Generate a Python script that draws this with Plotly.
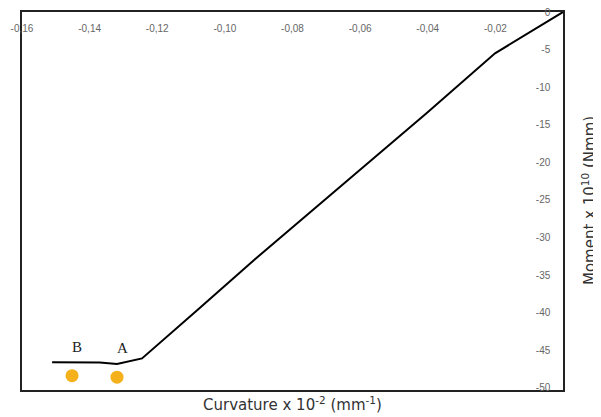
import plotly.graph_objects as go

# Curve data (curvature x 1e-2 mm^-1, moment x 1e10 Nmm)
curvature = [-0.1511, -0.1420, -0.1370, -0.1319, -0.1245, -0.1082, -0.0911, -0.0402, -0.0201, 0.0]
moment = [-46.6, -46.6, -46.65, -46.85, -46.1, -39.7, -32.9, -13.4, -5.5, 0.0]

# Orange points B and A
pt_labels = ["B", "A"]
pt_x = [-0.1452, -0.1319]
pt_y = [-48.4, -48.6]
lbl_y = [-44.6, -44.7]

x_ticks = [-0.16, -0.14, -0.12, -0.10, -0.08, -0.06, -0.04, -0.02]
x_ticktext = ["-0,16", "-0,14", "-0,12", "-0,10", "-0,08", "-0,06", "-0,04", "-0,02"]
y_ticks = [0, -5, -10, -15, -20, -25, -30, -35, -40, -45, -50]
y_ticktext = ["0", "-5", "-10", "-15", "-20", "-25", "-30", "-35", "-40", "-45", "-50"]

fig = go.Figure()
fig.add_trace(go.Scatter(x=curvature, y=moment, mode="lines",
                         line=dict(color="black", width=2), showlegend=False))
fig.add_trace(go.Scatter(x=pt_x, y=pt_y, mode="markers",
                         marker=dict(color="#F5B11C", size=13), showlegend=False))
for t, x, y in zip(pt_labels, pt_x, lbl_y):
    fig.add_annotation(x=x + 0.0015, y=y, text=t, showarrow=False,
                       font=dict(family="Liberation Serif", size=15, color="#222"))

fig.add_annotation(xref="paper", yref="paper", x=0.5, y=0, yanchor="top", yshift=-2,
                   text="Curvature x 10<sup>-2</sup> (mm<sup>-1</sup>)", showarrow=False,
                   font=dict(family="DejaVu Sans", size=15, color="#333"))
fig.add_annotation(xref="paper", yref="paper", x=1, xanchor="center", xshift=26, y=0.5,
                   text="Moment x 10<sup>10</sup> (Nmm)", textangle=-90, showarrow=False,
                   font=dict(family="DejaVu Sans", size=15, color="#333"))

common = dict(ticklabelposition="inside", ticks="inside", tickcolor="rgba(0,0,0,0)",
              ticklabeloverflow="allow", automargin=False,
              showgrid=False, zeroline=False, showline=True, mirror=True,
              linecolor="#222", linewidth=1.5,
              tickfont=dict(family="Liberation Sans", size=10, color="#666"))
fig.update_xaxes(range=[-0.16, 0], side="top", tickvals=x_ticks, ticktext=x_ticktext,
                 ticklen=12, **common)
fig.update_yaxes(range=[-50.3, 0], side="right", tickvals=y_ticks, ticktext=y_ticktext,
                 ticklen=12, **common)

fig.update_layout(width=593, height=409, margin=dict(l=14, r=38, t=4, b=27),
                  plot_bgcolor="white", paper_bgcolor="white")
fig.write_html("out.html", config={"displayModeBar": False})
